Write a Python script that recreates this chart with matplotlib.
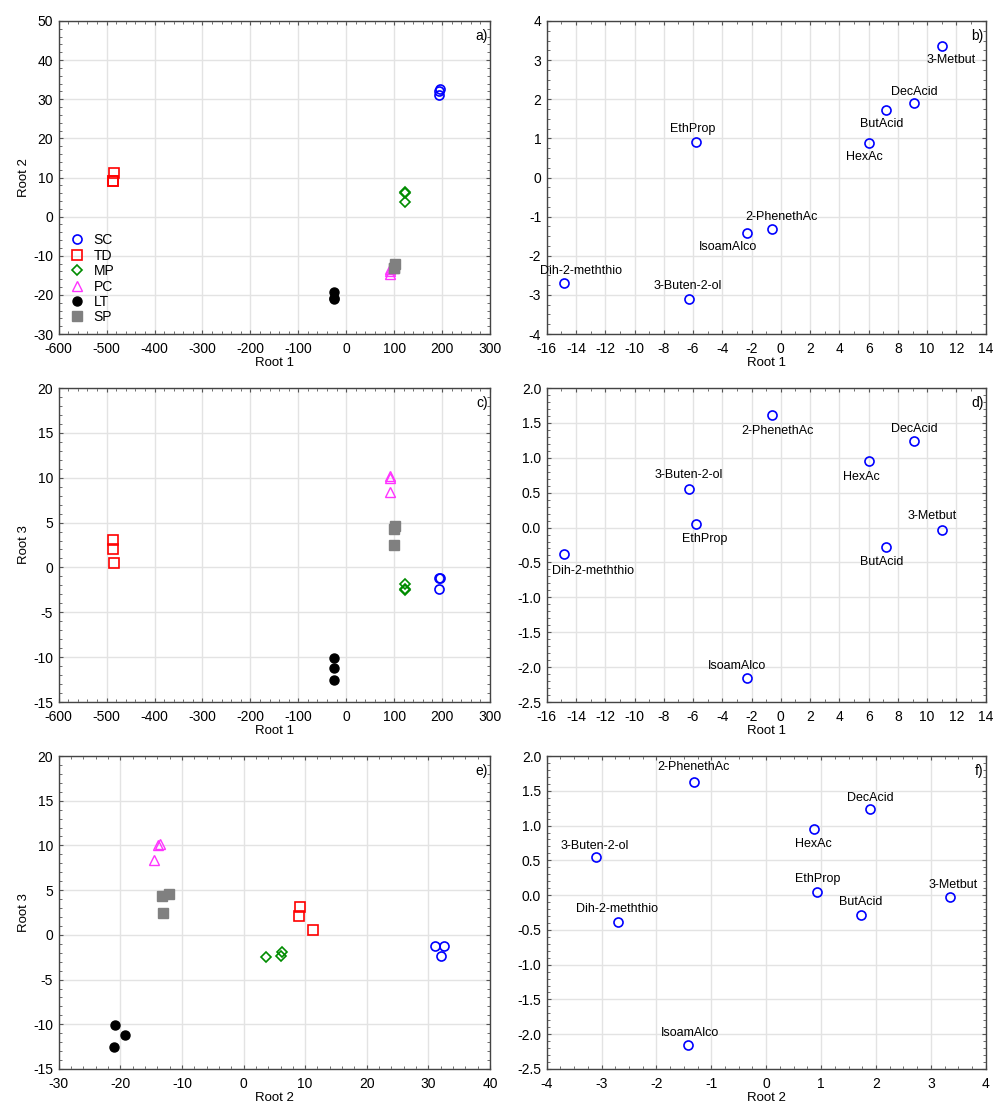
import numpy as np
import matplotlib
matplotlib.use("Agg")
import matplotlib.pyplot as plt
from matplotlib.ticker import MultipleLocator, AutoMinorLocator, FormatStrFormatter

plt.rcParams['font.family'] = ['Liberation Sans', 'DejaVu Sans']
plt.rcParams['axes.unicode_minus'] = False
plt.rcParams['font.size'] = 9.5

# --- sample scores (3 replicates per group) ---
groups = ['SC', 'TD', 'MP', 'PC', 'LT', 'SP']
root1 = {
    'SC': [193, 195, 194],
    'TD': [-486, -487, -484],
    'MP': [123, 123, 123],
    'PC': [92, 92, 91],
    'LT': [-25, -25, -25],
    'SP': [100, 101, 100],
}
root2 = {
    'SC': [31.0, 32.5, 32.0],
    'TD': [9.2, 9.0, 11.2],
    'MP': [6.3, 6.1, 3.7],
    'PC': [-13.9, -13.5, -14.6],
    'LT': [-20.8, -19.2, -21.0],
    'SP': [-13.2, -12.1, -13.1],
}
root3 = {
    'SC': [-1.2, -1.2, -2.4],
    'TD': [3.1, 2.1, 0.5],
    'MP': [-1.9, -2.4, -2.5],
    'PC': [10.0, 10.2, 8.4],
    'LT': [-10.1, -11.2, -12.5],
    'SP': [4.3, 4.6, 2.5],
}

# --- variable loadings ---
compounds = ['3-Metbut', 'DecAcid', 'ButAcid', 'HexAc', 'EthProp',
             '2-PhenethAc', 'IsoamAlco', 'Dih-2-meththio', '3-Buten-2-ol']
load1 = [11.0, 9.1, 7.2, 6.0, -5.8, -0.6, -2.3, -14.8, -6.3]
load2 = [3.35, 1.90, 1.72, 0.88, 0.92, -1.32, -1.42, -2.70, -3.10]
load3 = [-0.03, 1.24, -0.28, 0.95, 0.05, 1.62, -2.16, -0.38, 0.55]

# marker styles per group
style = {
    'SC': dict(marker='o', mfc='none', mec='#0000ff', ms=6.5, mew=1.2),
    'TD': dict(marker='s', mfc='none', mec='#ff0000', ms=6.5, mew=1.2),
    'MP': dict(marker='D', mfc='none', mec='#008c00', ms=5.5, mew=1.2),
    'PC': dict(marker='^', mfc='none', mec='#ff33ff', ms=6.5, mew=1.0),
    'LT': dict(marker='o', mfc='black', mec='black', ms=6.5, mew=1.0),
    'SP': dict(marker='s', mfc='#808080', mec='#808080', ms=6.5, mew=1.0),
}

# label offsets (points) for loading plots
off_b = [(7, -10), (0, 8), (-3, -10), (-3, -10), (-2, 9),
         (7, 9), (-14, -10), (12, 9), (-1, 9)]
off_d = [(-7, 10), (0, 9), (-3, -11), (-5, -11), (6, -11),
         (4, -12), (-7, 9), (21, -12), (0, 10)]
off_f = [(2, 9), (0, 8), (0, 9), (-1, -11), (1, 9),
         (0, 11), (1, 9), (-1, 9), (-1, 8)]

fig = plt.figure(figsize=(10, 11.08), dpi=100)

W, H = 1000.0, 1108.0
left_x = (58.7, 490)
right_x = (546.7, 985.7)
rows = [(21, 334), (388, 702), (756, 1069)]


def make_ax(xs, ys):
    return fig.add_axes([xs[0] / W, 1 - ys[1] / H, (xs[1] - xs[0]) / W, (ys[1] - ys[0]) / H])


def style_ax(ax, xlim, xmaj, xmin_n, ylim, ymaj, ymin_n, yfmt=None):
    ax.set_xlim(*xlim)
    ax.set_ylim(*ylim)
    ax.xaxis.set_major_locator(MultipleLocator(xmaj))
    ax.yaxis.set_major_locator(MultipleLocator(ymaj))
    ax.xaxis.set_minor_locator(AutoMinorLocator(xmin_n))
    ax.yaxis.set_minor_locator(AutoMinorLocator(ymin_n))
    if yfmt:
        ax.yaxis.set_major_formatter(FormatStrFormatter(yfmt))
    ax.grid(True, which='major', color='#e3e3e3', lw=1.0)
    ax.set_axisbelow(True)
    ax.tick_params(which='both', direction='in', top=True, right=True,
                   labelsize=10, color='#555555')
    ax.tick_params(axis='x', which='major', pad=5.5)
    ax.tick_params(axis='y', which='major', pad=4)
    ax.tick_params(which='major', length=3)
    ax.tick_params(which='minor', length=2)
    for sp in ax.spines.values():
        sp.set_color('#444444')
        sp.set_linewidth(1.0)


def scores(ax, xd, yd, legend=False):
    for g in groups:
        ax.plot(xd[g], yd[g], ls='none', label=g, **style[g])
    if legend:
        ax.legend(loc='lower left', frameon=False, fontsize=10,
                  handletextpad=0.6, labelspacing=0.1, borderaxespad=0.3,
                  handlelength=1.2)


def loadings(ax, xv, yv, offs):
    ax.plot(xv, yv, ls='none', marker='o', mfc='none', mec='#0000ff', ms=6.5, mew=1.2)
    for name, x, y, (dx, dy) in zip(compounds, xv, yv, offs):
        ax.annotate(name, (x, y), xytext=(dx, dy), textcoords='offset points',
                    ha='center', va='center', fontsize=9)


def tag(ax, s):
    ax.text(0.995, 0.975, s, transform=ax.transAxes, ha='right', va='top', fontsize=10)


# a)
ax = make_ax(left_x, rows[0])
style_ax(ax, (-600, 300), 100, 5, (-30, 50), 10, 5)
scores(ax, root1, root2, legend=True)
ax.set_xlabel('Root 1', labelpad=1)
ax.set_ylabel('Root 2', labelpad=2)
tag(ax, 'a)')

# b)
ax = make_ax(right_x, rows[0])
style_ax(ax, (-16, 14), 2, 2, (-4, 4), 1, 4)
loadings(ax, load1, load2, off_b)
ax.set_xlabel('Root 1', labelpad=1)
tag(ax, 'b)')

# c)
ax = make_ax(left_x, rows[1])
style_ax(ax, (-600, 300), 100, 5, (-15, 20), 5, 5)
scores(ax, root1, root3)
ax.set_xlabel('Root 1', labelpad=1)
ax.set_ylabel('Root 3', labelpad=2)
tag(ax, 'c)')

# d)
ax = make_ax(right_x, rows[1])
style_ax(ax, (-16, 14), 2, 2, (-2.5, 2.0), 0.5, 5, yfmt='%.1f')
loadings(ax, load1, load3, off_d)
ax.set_xlabel('Root 1', labelpad=1)
tag(ax, 'd)')

# e)
ax = make_ax(left_x, rows[2])
style_ax(ax, (-30, 40), 10, 5, (-15, 20), 5, 5)
scores(ax, root2, root3)
ax.set_xlabel('Root 2', labelpad=1)
ax.set_ylabel('Root 3', labelpad=2)
tag(ax, 'e)')

# f)
ax = make_ax(right_x, rows[2])
style_ax(ax, (-4, 4), 1, 4, (-2.5, 2.0), 0.5, 5, yfmt='%.1f')
loadings(ax, load2, load3, off_f)
ax.set_xlabel('Root 2', labelpad=1)
tag(ax, 'f)')

fig.savefig('out.png', dpi=100)
